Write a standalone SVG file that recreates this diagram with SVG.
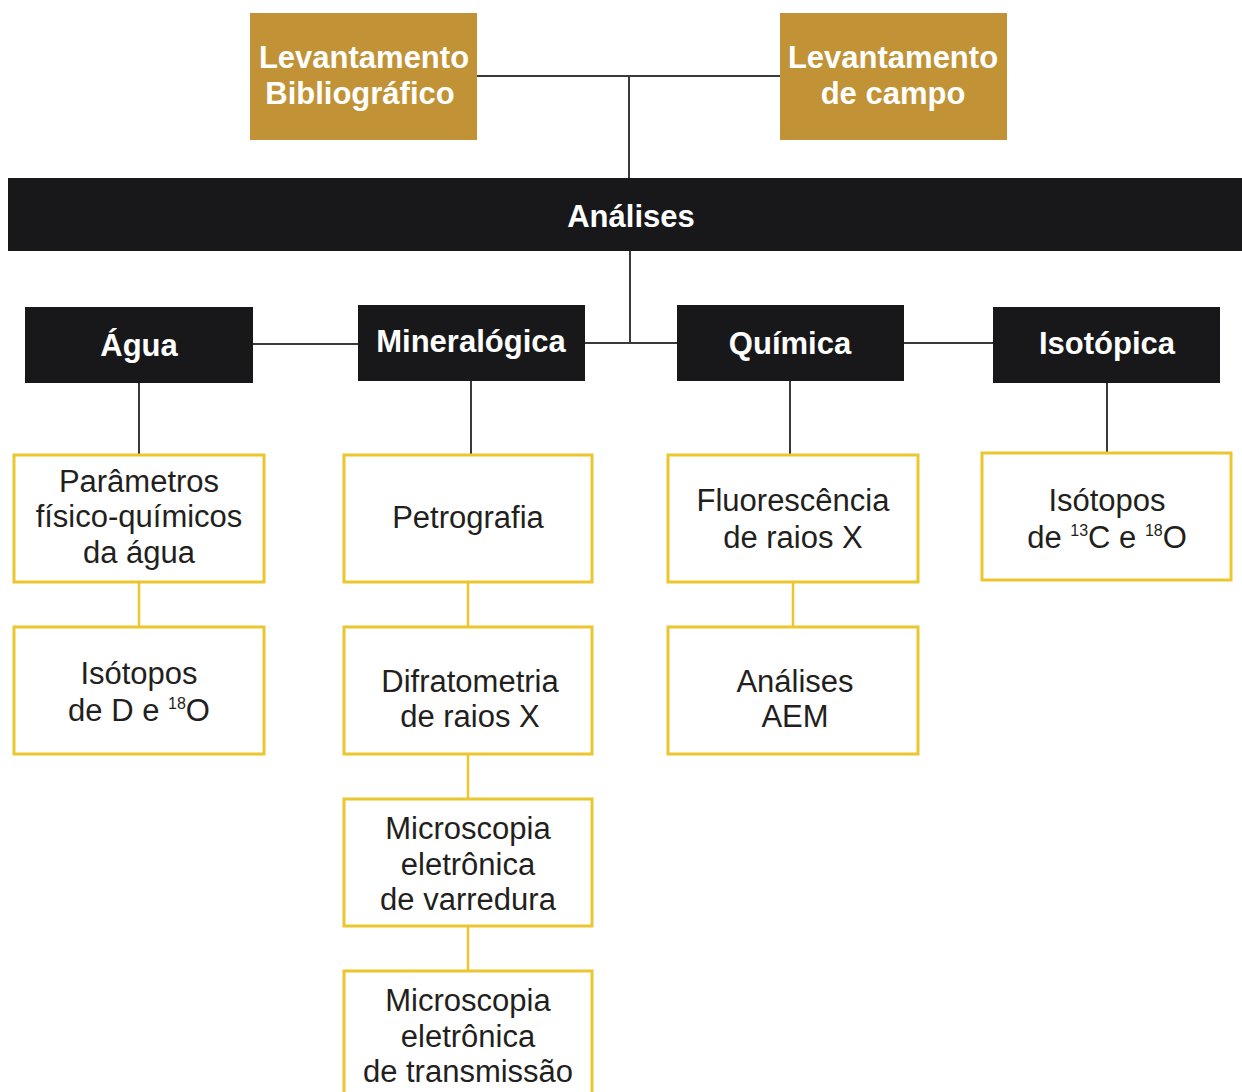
<svg xmlns="http://www.w3.org/2000/svg" width="1242" height="1092" viewBox="0 0 1242 1092">
<style>
.gold{fill:#c19336}
.blk{fill:#18181a}
.box{fill:#fff;stroke:#ecc62e;stroke-width:3}
.ht{font-family:"Liberation Sans",Arial,sans-serif;font-weight:bold;font-size:31px;fill:#fff;text-anchor:middle}
.t{font-family:"Liberation Sans",Arial,sans-serif;font-size:31px;fill:#231f20;text-anchor:middle}
.sup{font-size:16px}
.cd{stroke:#3a3a3a;stroke-width:2;fill:none}
.cy{stroke:#ecc62e;stroke-width:2.5;fill:none}
</style>
<rect width="1242" height="1092" fill="#fff"/>
<g id="connectors">
<path class="cd" d="M477 76H780M629 76V178"/>
<path class="cd" d="M630 251V343"/>
<path class="cd" d="M253 344H358M585 343H677M904 343H993"/>
<path class="cd" d="M139 383V455M471 381V455M790 381V455M1107 383V453"/>
<path class="cy" d="M139 582V627M468 582V627M468 754V799M468 926V971M793 582V627"/>
</g>
<g id="lev-bib"><rect class="gold" x="250" y="13" width="227" height="127"/><text class="ht" x="364" y="68">Levantamento</text><text class="ht" x="360" y="104">Bibliográfico</text></g>
<g id="lev-campo"><rect class="gold" x="780" y="13" width="227" height="127"/><text class="ht" x="893" y="68">Levantamento</text><text class="ht" x="893" y="104">de campo</text></g>
<g id="analises"><rect class="blk" x="8" y="178" width="1234" height="73"/><text class="ht" x="631" y="227">Análises</text></g>
<g id="agua"><rect class="blk" x="25" y="307" width="228" height="76"/><text class="ht" x="139" y="356">Água</text></g>
<g id="mineralogica"><rect class="blk" x="358" y="305" width="227" height="76"/><text class="ht" x="471" y="352">Mineralógica</text></g>
<g id="quimica"><rect class="blk" x="677" y="305" width="227" height="76"/><text class="ht" x="790" y="354">Química</text></g>
<g id="isotopica"><rect class="blk" x="993" y="307" width="227" height="76"/><text class="ht" x="1107" y="354">Isotópica</text></g>
<g id="parametros"><rect class="box" x="14" y="455" width="250" height="127"/><text class="t" x="139" y="492">Parâmetros</text><text class="t" x="139" y="527">físico-químicos</text><text class="t" x="139" y="563">da água</text></g>
<g id="isotopos-d"><rect class="box" x="14" y="627" width="250" height="127"/><text class="t" x="139" y="684">Isótopos</text><text class="t" x="139" y="721">de D e <tspan class="sup" dy="-12">18</tspan><tspan dy="12">O</tspan></text></g>
<g id="petrografia"><rect class="box" x="344" y="455" width="248" height="127"/><text class="t" x="468" y="528">Petrografia</text></g>
<g id="difratometria"><rect class="box" x="344" y="627" width="248" height="127"/><text class="t" x="470" y="692">Difratometria</text><text class="t" x="470" y="727">de raios X</text></g>
<g id="mev"><rect class="box" x="344" y="799" width="248" height="127"/><text class="t" x="468" y="839">Microscopia</text><text class="t" x="468" y="875">eletrônica</text><text class="t" x="468" y="910">de varredura</text></g>
<g id="met"><rect class="box" x="344" y="971" width="248" height="127"/><text class="t" x="468" y="1011">Microscopia</text><text class="t" x="468" y="1047">eletrônica</text><text class="t" x="468" y="1082">de transmissão</text></g>
<g id="fluorescencia"><rect class="box" x="668" y="455" width="250" height="127"/><text class="t" x="793" y="511">Fluorescência</text><text class="t" x="793" y="548">de raios X</text></g>
<g id="aem"><rect class="box" x="668" y="627" width="250" height="127"/><text class="t" x="795" y="692">Análises</text><text class="t" x="795" y="727">AEM</text></g>
<g id="isotopos-c"><rect class="box" x="982" y="453" width="249" height="127"/><text class="t" x="1107" y="511">Isótopos</text><text class="t" x="1107" y="548">de <tspan class="sup" dy="-12">13</tspan><tspan dy="12">C e </tspan><tspan class="sup" dy="-12">18</tspan><tspan dy="12">O</tspan></text></g>
</svg>
